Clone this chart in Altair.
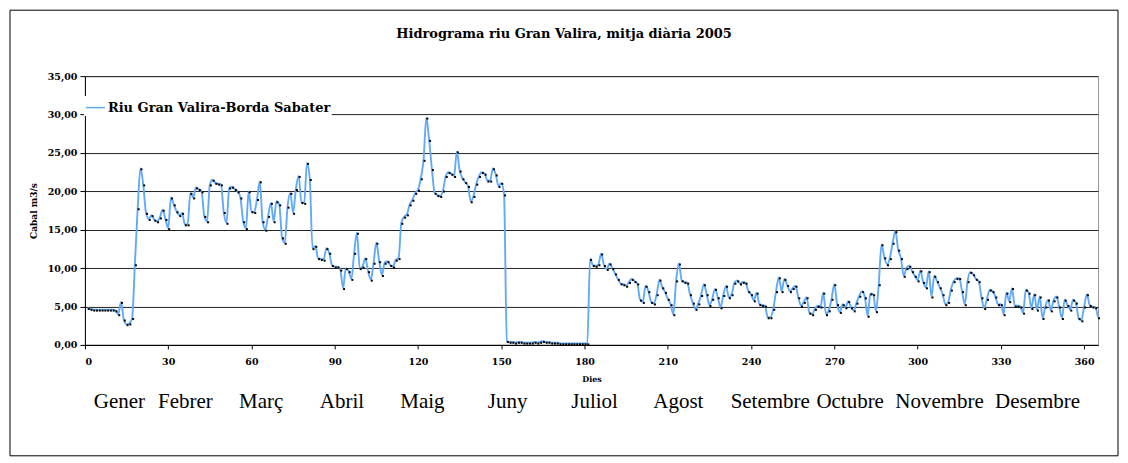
import altair as alt
import pandas as pd

SERIES = "Riu Gran Valira-Borda Sabater"
TITLE = "Hidrograma riu Gran Valira, mitja diària 2005"

days = list(range(1, 366))
flow = [
    4.8, 4.7, 4.6, 4.6, 4.6, 4.6, 4.6, 4.6, 4.6, 4.6,          # 1-10
    4.5, 4.0, 5.6, 3.3, 2.7, 2.8, 3.5, 10.5, 17.8, 23.0,       # 11-20
    20.9, 17.2, 16.4, 16.9, 16.3, 16.1, 16.6, 17.6, 16.4, 15.2,  # 21-30
    19.2, 18.3, 17.4, 16.9, 17.2, 15.7, 15.7, 19.8, 19.2, 20.5,  # 31-40
    20.3, 20.0, 16.8, 16.1, 20.9, 21.5, 21.1, 21.0, 20.9, 17.3,  # 41-50
    15.9, 20.5, 20.6, 20.3, 20.0, 19.2, 16.1, 15.2, 20.0, 17.4,  # 51-60
    17.3, 19.0, 21.3, 16.1, 15.0, 16.8, 18.5, 16.1, 18.7, 18.3,  # 61-70
    14.0, 13.3, 18.0, 19.8, 17.2, 20.3, 22.0, 18.6, 18.5, 23.7,  # 71-80
    21.6, 12.6, 12.9, 11.3, 11.2, 11.1, 12.6, 12.0, 10.4, 10.2,  # 81-90
    10.2, 9.8, 7.4, 10.0, 9.6, 8.6, 12.0, 14.6, 10.0, 10.2,      # 91-100
    11.3, 9.6, 8.5, 10.7, 13.3, 10.9, 9.1, 10.7, 10.9, 10.4,     # 101-110
    10.2, 11.1, 11.3, 15.9, 16.7, 17.0, 18.3, 18.9, 19.8, 20.2,  # 111-120
    21.7, 24.1, 29.6, 26.7, 22.9, 19.8, 19.5, 19.4, 20.1, 22.0,  # 121-130
    22.5, 22.3, 22.0, 25.2, 22.7, 21.7, 21.2, 20.7, 18.7, 19.4,  # 131-140
    21.0, 22.0, 22.5, 22.3, 21.4, 21.4, 23.0, 22.2, 20.7, 21.1,  # 141-150
    19.6, 0.5, 0.4, 0.4, 0.3, 0.4, 0.4, 0.3, 0.3, 0.3,           # 151-160
    0.3, 0.4, 0.3, 0.4, 0.5, 0.4, 0.4, 0.3, 0.3, 0.3,            # 161-170
    0.2, 0.2, 0.2, 0.2, 0.2, 0.2, 0.2, 0.2, 0.2, 0.2,            # 171-180
    0.2, 11.2, 10.4, 10.3, 10.5, 11.9, 10.4, 9.9, 10.6, 10.0,    # 181-190
    9.3, 8.6, 8.0, 7.9, 7.7, 8.2, 8.6, 8.3, 8.0, 5.9,            # 191-200
    5.6, 7.7, 7.0, 5.6, 5.4, 6.6, 8.5, 7.5, 6.9, 6.0,            # 201-210
    5.3, 4.0, 8.4, 10.6, 8.4, 8.2, 8.1, 6.6, 5.5, 4.7,           # 211-220
    5.4, 6.5, 7.9, 6.6, 5.2, 6.0, 7.3, 6.2, 4.9, 6.5,            # 221-230
    7.7, 6.2, 6.6, 8.1, 8.4, 8.0, 8.2, 8.1, 7.0, 6.6,            # 231-240
    5.8, 6.8, 5.3, 5.2, 5.1, 3.6, 3.6, 4.7, 7.0, 8.8,            # 241-250
    7.0, 8.6, 7.8, 7.0, 7.4, 7.7, 6.2, 5.1, 5.6, 6.2,            # 251-260
    4.2, 4.0, 4.7, 5.1, 5.0, 6.8, 4.0, 4.5, 6.0, 7.9,            # 261-270
    5.3, 4.3, 5.3, 4.9, 5.7, 4.9, 4.5, 5.5, 6.4, 7.0,            # 271-280
    6.2, 3.8, 6.7, 6.6, 4.4, 7.9, 13.1, 11.4, 10.5, 11.3,        # 281-290
    13.3, 14.8, 12.4, 11.3, 9.0, 10.0, 10.3, 9.6, 9.0, 8.4,      # 291-300
    9.7, 8.2, 7.5, 9.6, 6.3, 9.0, 8.3, 7.5, 6.6, 5.3,            # 301-310
    5.6, 7.2, 8.3, 8.7, 8.7, 7.0, 5.3, 8.3, 9.5, 9.2,            # 311-320
    8.6, 8.3, 6.2, 4.8, 6.0, 7.2, 7.0, 6.3, 5.3, 5.3,            # 321-330
    4.0, 6.8, 5.7, 7.4, 5.1, 5.1, 5.0, 4.2, 7.2, 6.8,            # 331-340
    4.8, 6.6, 4.6, 6.3, 3.5, 5.0, 5.9, 4.5, 5.8, 6.3,            # 341-350
    5.0, 3.5, 5.9, 5.2, 4.6, 5.9, 5.5, 3.5, 3.2, 5.0,            # 351-360
    6.6, 5.2, 5.0, 4.9, 3.6,                                     # 361-365
]
assert len(flow) == 365

months = ["Gener", "Febrer", "Març", "Abril", "Maig", "Juny", "Juliol",
          "Agost", "Setembre", "Octubre", "Novembre", "Desembre"]
month_label_day = [12.4, 36.2, 63.5, 92.6, 121.6, 152.3, 183.6,
                   213.8, 246.9, 275.7, 307.9, 343.2]

x_ticks = [0, 30, 60, 90, 120, 150, 180, 210, 240, 270, 300, 330, 360]
y_ticks = [0, 5, 10, 15, 20, 25, 30, 35]

df = pd.DataFrame({"dia": days, "cabal": flow, "serie": SERIES})
mdf = pd.DataFrame({"mes": months, "dia": month_label_day})
one = pd.DataFrame({"k": [0]})

W, H = 1014, 269
SERIF_B = "DejaVu Serif"
xscale = alt.Scale(domain=[0, 365], nice=False, zero=False)
yscale = alt.Scale(domain=[0, 35], nice=False)

X = alt.X("dia:Q", scale=xscale, title="Dies",
          axis=alt.Axis(values=x_ticks, grid=False, tickSize=4,
                        labelPadding=8, titleY=31, titleBaseline="top",
                        titleFontSize=8))
Y = alt.Y("cabal:Q", scale=yscale, title="Cabal m3/s",
          axis=alt.Axis(values=y_ticks, grid=True, tickSize=5, labelPadding=3,
                        labelExpr="replace(format(datum.value, '.2f'), '.', ',')",
                        titleX=-51, titleY=H / 2, titleAngle=270,
                        titleAlign="center", titleBaseline="middle"))

line = alt.Chart(df).mark_line(interpolate="monotone", strokeWidth=1.9).encode(
    x=X, y=Y,
    color=alt.Color("serie:N", scale=alt.Scale(range=["#62a9f8"]),
                    legend=alt.Legend(title=None, orient="none", legendX=-1, legendY=20,
                                      symbolType="stroke", symbolStrokeWidth=1.5,
                                      symbolSize=360, labelFont=SERIF_B,
                                      labelFontWeight="bold", labelFontSize=13,
                                      labelColor="black", fillColor="white",
                                      padding=1, labelOffset=2, labelLimit=0)),
)

points = alt.Chart(df).mark_square(size=4, color="black", opacity=1,
                                   xOffset=1, yOffset=1).encode(x=X, y=Y)

month_text = alt.Chart(mdf).mark_text(font="Liberation Serif", fontSize=21,
                                      baseline="alphabetic", align="center",
                                      color="black").encode(
    x=X,
    y=alt.value(332),
    text="mes:N",
)

title_text = alt.Chart(one).mark_text(text=TITLE, font=SERIF_B, fontWeight="bold",
                                      fontSize=13, align="center", baseline="middle",
                                      color="black").encode(
    x=alt.value(479.5), y=alt.value(-42))

border = alt.Chart(one).mark_rect(fillOpacity=0, stroke="black", strokeWidth=1).encode(
    x=alt.value(-75), x2=alt.value(1034), y=alt.value(-66), y2=alt.value(380))

chart = alt.layer(line, points, month_text, title_text, border).properties(
    width=W, height=H, padding={"left": 1, "top": 1, "right": 1, "bottom": 1}
).configure(background="white").configure_view(stroke="#999999").configure_axis(
    labelFont=SERIF_B, labelFontWeight="bold", labelFontSize=9.5, labelColor="black",
    titleFont=SERIF_B, titleFontWeight="bold", titleFontSize=9, titleColor="black",
    domainColor="black", tickColor="black", gridColor="#222222", gridWidth=1,
    domainWidth=1, tickWidth=1,
)

chart.save("out.html", embed_options={"renderer": "svg", "actions": False})
